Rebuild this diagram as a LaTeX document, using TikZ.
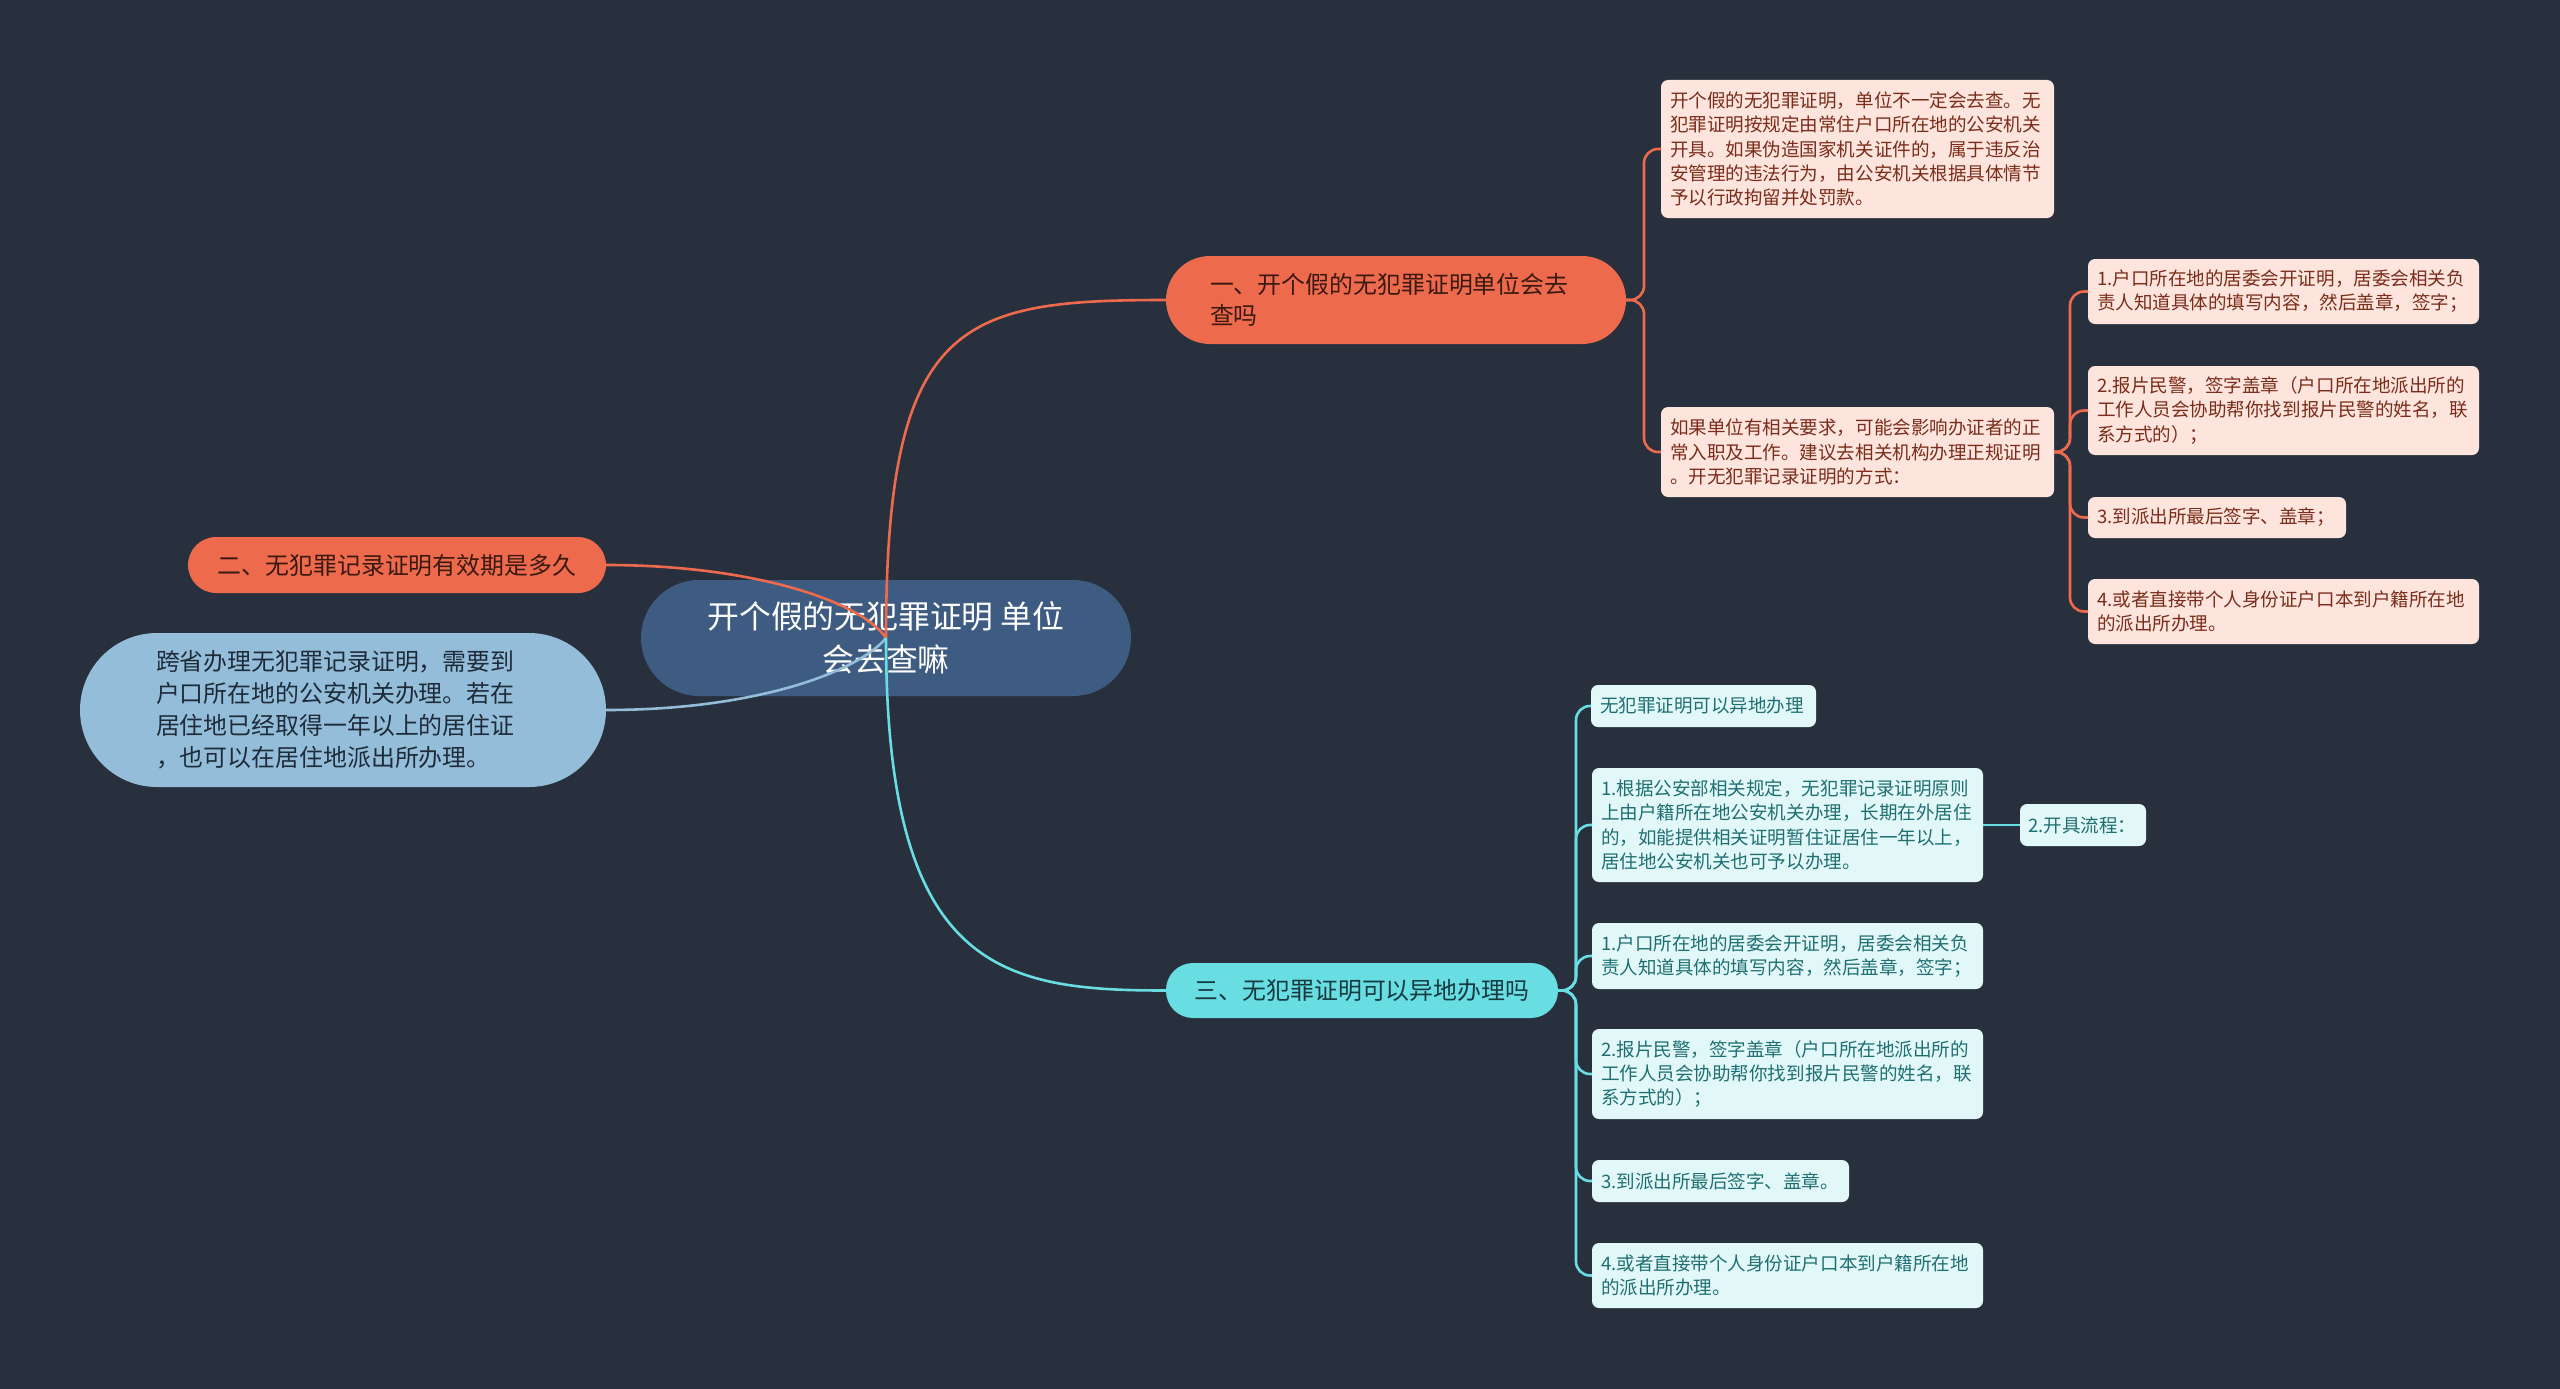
\documentclass[tikz,border=0pt]{standalone}
\usepackage{fontspec}
\setmainfont{Noto Sans CJK SC}
\definecolor{bgc}{HTML}{28303E}
\definecolor{centerc}{HTML}{3E5B82}
\definecolor{orangec}{HTML}{EE6A4D}
\definecolor{lbluec}{HTML}{94BDDA}
\definecolor{cyanc}{HTML}{68DDE2}
\definecolor{oleaf}{HTML}{FDE4DC}
\definecolor{cleaf}{HTML}{E2F8F8}
\definecolor{otext}{HTML}{7A2D1A}
\definecolor{obtext}{HTML}{3A1A10}
\definecolor{ctext}{HTML}{1F6F72}
\definecolor{cbtext}{HTML}{163A40}
\definecolor{lbtext}{HTML}{1E2C3A}
\begin{document}
\begin{tikzpicture}[x=1pt,y=-1pt,
  every node/.style={inner sep=0pt, outer sep=0pt},
  centernode/.style={fill=centerc, text=white, align=center, font=\fontsize{31.8}{43}\selectfont},
  obranch/.style={fill=orangec, text=obtext, font=\fontsize{23.9}{31}\selectfont},
  cbranch/.style={fill=cyanc, text=cbtext, font=\fontsize{23.9}{31}\selectfont},
  lbnode/.style={fill=lbluec, text=lbtext, font=\fontsize{23.9}{32}\selectfont},
  oleafnode/.style={fill=oleaf, text=otext, rounded corners=7, align=left, inner xsep=9, font=\fontsize{18.55}{24.2}\selectfont},
  cleafnode/.style={fill=cleaf, text=ctext, rounded corners=7, align=left, inner xsep=9, font=\fontsize{18.55}{24.2}\selectfont},
  oline/.style={draw=orangec, line width=2.6pt},
  cline/.style={draw=cyanc, line width=2.6pt},
  lbline/.style={draw=lbluec, line width=2.6pt}]
\fill[bgc] (0,0) rectangle (2560,1389);
\useasboundingbox (0,0) rectangle (2560,1389);

% center
\node[centernode, minimum width=490, minimum height=116, rounded corners=58] (c) at (886,638) {开个假的无犯罪证明 单位\\会去查嘛};

% branches
\node[obranch, minimum height=88, rounded corners=44, inner xsep=44, text width=372, align=left] (b1) at (1396,300) {一、开个假的无犯罪证明单位会去\\查吗};
\node[obranch, minimum width=418, minimum height=56, rounded corners=28] (b2) at (397,565) {二、无犯罪记录证明有效期是多久};
\node[lbnode, minimum height=154, rounded corners=77, inner xsep=76, text width=374, align=left] (lb) at (343,710) {跨省办理无犯罪记录证明，需要到\\户口所在地的公安机关办理。若在\\居住地已经取得一年以上的居住证\\，也可以在居住地派出所办理。};
\node[cbranch, minimum width=392, minimum height=55, rounded corners=27] (b3) at (1362,990.5) {三、无犯罪证明可以异地办理吗};

% orange leaves
\node[oleafnode, text width=375, minimum height=138] (la) at (1857.5,149) {开个假的无犯罪证明，单位不一定会去查。无\\犯罪证明按规定由常住户口所在地的公安机关\\开具。如果伪造国家机关证件的，属于违反治\\安管理的违法行为，由公安机关根据具体情节\\予以行政拘留并处罚款。};
\node[oleafnode, text width=375, minimum height=90] (lb2) at (1857.5,452) {如果单位有相关要求，可能会影响办证者的正\\常入职及工作。建议去相关机构办理正规证明\\。开无犯罪记录证明的方式：};
\node[oleafnode, text width=373, minimum height=65] (s1) at (2283.5,291.5) {1.户口所在地的居委会开证明，居委会相关负\\责人知道具体的填写内容，然后盖章，签字；};
\node[oleafnode, text width=373, minimum height=89] (s2) at (2283.5,410.5) {2.报片民警，签字盖章（户口所在地派出所的\\工作人员会协助帮你找到报片民警的姓名，联\\系方式的）；};
\node[oleafnode, text width=240, minimum height=41] (s3) at (2217,517.5) {3.到派出所最后签字、盖章；};
\node[oleafnode, text width=373, minimum height=65] (s4) at (2283.5,611.5) {4.或者直接带个人身份证户口本到户籍所在地\\的派出所办理。};

% cyan leaves
\node[cleafnode, text width=207, minimum height=42] (c1) at (1703.5,706) {无犯罪证明可以异地办理};
\node[cleafnode, text width=373, minimum height=114] (c2) at (1787.5,825) {1.根据公安部相关规定，无犯罪记录证明原则\\上由户籍所在地公安机关办理，长期在外居住\\的，如能提供相关证明暂住证居住一年以上，\\居住地公安机关也可予以办理。};
\node[cleafnode, text width=110, minimum height=42, inner xsep=8] (c2b) at (2083,825) {2.开具流程：};
\node[cleafnode, text width=373, minimum height=66] (c3) at (1787.5,956) {1.户口所在地的居委会开证明，居委会相关负\\责人知道具体的填写内容，然后盖章，签字；};
\node[cleafnode, text width=373, minimum height=90] (c4) at (1787.5,1074) {2.报片民警，签字盖章（户口所在地派出所的\\工作人员会协助帮你找到报片民警的姓名，联\\系方式的）；};
\node[cleafnode, text width=239, minimum height=42] (c5) at (1720.5,1181) {3.到派出所最后签字、盖章。};
\node[cleafnode, text width=373, minimum height=65] (c6) at (1787.5,1275.5) {4.或者直接带个人身份证户口本到户籍所在地\\的派出所办理。};

% junctions
\coordinate (j1) at (1644,300);
\coordinate (j1b) at (2070,452);
\coordinate (j3) at (1576,990.5);

% main curves
\draw[oline] (c.center) .. controls (886,320) and (960,300) .. (b1.west);
\draw[oline] (c.center) .. controls (860,600) and (750,565) .. (b2.east);
\draw[lbline] (c.center) .. controls (860,670) and (760,710) .. (lb.east);
\draw[cline] (c.center) .. controls (886,970) and (1000,990.5) .. (b3.west);

% orange leaf connectors
\draw[oline, rounded corners=14] (b1.east) -- (j1) |- (la.west);
\draw[oline, rounded corners=14] (b1.east) -- (j1) |- (lb2.west);
\draw[oline, rounded corners=14] (lb2.east) -- (j1b) |- (s1.west);
\draw[oline, rounded corners=14] (lb2.east) -- (j1b) |- (s2.west);
\draw[oline, rounded corners=14] (lb2.east) -- (j1b) |- (s3.west);
\draw[oline, rounded corners=14] (lb2.east) -- (j1b) |- (s4.west);

% cyan leaf connectors
\draw[cline, rounded corners=14] (b3.east) -- (j3) |- (c1.west);
\draw[cline, rounded corners=14] (b3.east) -- (j3) |- (c2.west);
\draw[cline, rounded corners=14] (b3.east) -- (j3) |- (c3.west);
\draw[cline, rounded corners=14] (b3.east) -- (j3) |- (c4.west);
\draw[cline, rounded corners=14] (b3.east) -- (j3) |- (c5.west);
\draw[cline, rounded corners=14] (b3.east) -- (j3) |- (c6.west);
\draw[cline] (c2.east) -- (c2b.west);
\end{tikzpicture}
\end{document}
